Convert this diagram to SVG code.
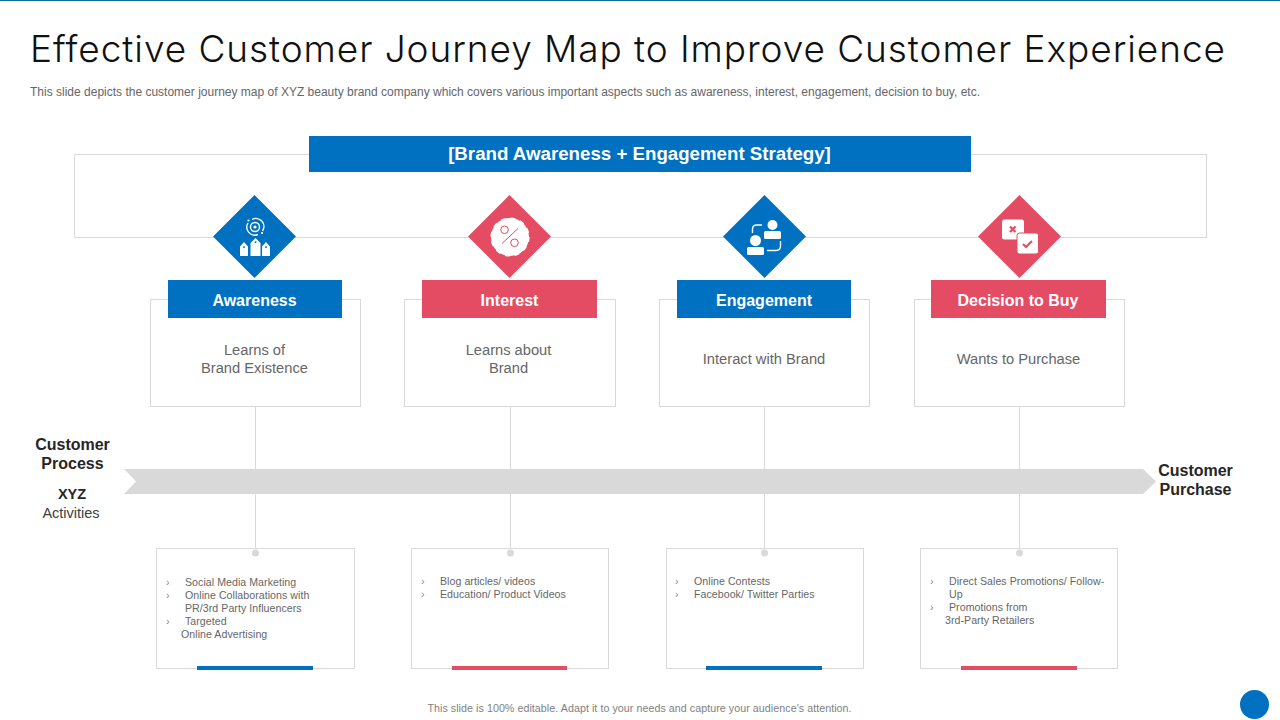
<svg xmlns="http://www.w3.org/2000/svg" width="1280" height="720" viewBox="0 0 1280 720">
<style>
text{font-family:"Liberation Sans",Arial,sans-serif}
.title{font-family:"Inter","Liberation Sans",sans-serif;font-weight:300;font-size:37px;fill:#111}
.sub{font-size:12px;fill:#666}
.box{fill:#fff;stroke:#d9d9d9;stroke-width:1}
.line{fill:none;stroke:#d9d9d9;stroke-width:1}
.blue{fill:#0070c0}
.red{fill:#e34c63}
.head{font-size:16px;font-weight:bold;fill:#fff;text-anchor:middle}
.body{font-size:14.7px;fill:#666;text-anchor:middle}
.li{font-size:10.6px;fill:#666;letter-spacing:.05px}
.bu{font-size:10.7px;fill:#888}
.side{font-size:16px;font-weight:bold;fill:#262626;text-anchor:middle}
.ic{fill:#fff}
.ics{fill:none;stroke:#fff;stroke-width:1.4}
.dot{fill:#d9d9d9}
</style>
<rect width="1280" height="720" fill="#fff"/>
<rect width="1280" height="1" fill="#0b6a9e"/>
<text class="title" x="30" y="62" textLength="1195" lengthAdjust="spacing">Effective Customer Journey Map to Improve Customer Experience</text>
<text class="sub" x="30" y="96" textLength="950" lengthAdjust="spacing">This slide depicts the customer journey map of XYZ  beauty brand company which covers various important aspects such as awareness, interest, engagement, decision to buy,  etc.</text>

<g id="connectors">
<rect class="line" x="74.500" y="154.500" width="1132" height="83"/>
<path class="line" d="M255.500 406V552M510.500 406V552M764.500 406V552M1019.500 406V552"/>
</g>

<g id="strategy">
<rect class="blue" x="309" y="136" width="662" height="36"/>
<text x="639.500" y="160" font-size="18.700" font-weight="bold" fill="#fff" text-anchor="middle">[Brand Awareness + Engagement Strategy]</text>
</g>

<g id="process-arrow">
<path fill="#d9d9d9" d="M124 469H1143L1156 481.500L1143 494H124L136 481.500Z"/>
</g>

<g id="icon-awareness">
<path class="blue" d="M254.500 195L296 236.500L254.500 278L213 236.500Z"/>
<path class="ics" d="M248 223A8 8 0 0 0 258 234.500M262.500 231A8 8 0 0 0 252 219.500"/>
<circle class="ics" cx="255" cy="227" r="4.500" stroke-width="1.800"/>
<circle class="ic" cx="255" cy="227" r="1.600"/>
<circle class="ic" cx="248.500" cy="220.500" r="1.100"/>
<circle class="ic" cx="262" cy="233" r="1.100"/>
<path class="ic" fill-rule="evenodd" d="M240 256V246.500L244 242L248 246.500V256ZM244 246.200a.9 .9 0 1 0 .01 0ZM250.500 256V243L255.500 238L260.500 243V256ZM255.500 241.200a.9 .9 0 1 0 .01 0ZM262 256V246.500L266 242L270 246.500V256ZM266 246.200a.9 .9 0 1 0 .01 0Z"/>
</g>
<g id="icon-interest">
<path class="red" d="M509.500 195L551 236.500L509.500 278L468 236.500Z"/>
<circle class="ic" cx="510" cy="237" r="19"/>
<circle cx="510" cy="237" r="19" fill="none" stroke="#fff" stroke-width="1.200" stroke-dasharray="4.970 4.970"/>
<g fill="none" stroke="#e34c63" stroke-width="1"><circle cx="504.500" cy="229.800" r="3.800"/><circle cx="514.500" cy="242.800" r="3.800"/><path d="M502 243.500L518 228.500"/></g>
</g>
<g id="icon-engagement">
<path class="blue" d="M764.500 195L806 236.500L764.500 278L723 236.500Z"/>
<circle class="ic" cx="772.500" cy="225" r="5"/>
<rect class="ic" x="764" y="231" width="17" height="8" rx="1.500"/>
<circle class="ic" cx="755.500" cy="240.500" r="5.500"/>
<rect class="ic" x="747" y="247" width="17" height="8" rx="1.500"/>
<path class="ics" d="M752.500 233V229Q752.500 225 757 225H762M780.500 241V246Q780.500 250.500 776 250.500H767"/>
</g>
<g id="icon-decision">
<path class="red" d="M1019.500 195L1061 236.500L1019.500 278L978 236.500Z"/>
<rect class="ic" x="1002" y="219.500" width="22" height="20" rx="2.500"/>
<rect class="ic" x="1017" y="233" width="21.500" height="21" rx="2.500" stroke="#e34c63" stroke-width="1"/>
<path d="M1010 226.500L1015.500 232M1015.500 226.500L1010 232" stroke="#e34c63" stroke-width="2.200" fill="none"/>
<path d="M1023 244L1026 247L1032 241" stroke="#e34c63" stroke-width="2" fill="none"/>
</g>

<g id="stage-awareness">
<rect class="box" x="150.500" y="299.500" width="210" height="107"/>
<rect class="blue" x="168" y="280" width="174" height="38"/>
<text class="head" x="254.500" y="305.500">Awareness</text>
<text class="body" x="254.500" y="355">Learns of</text>
<text class="body" x="254.500" y="373">Brand Existence</text>
</g>
<g id="stage-interest">
<rect class="box" x="404.500" y="299.500" width="211" height="107"/>
<rect class="red" x="422" y="280" width="175" height="38"/>
<text class="head" x="509.500" y="305.500">Interest</text>
<text class="body" x="508.500" y="355">Learns about</text>
<text class="body" x="508.500" y="373">Brand</text>
</g>
<g id="stage-engagement">
<rect class="box" x="659.500" y="299.500" width="210" height="107"/>
<rect class="blue" x="677" y="280" width="174" height="38"/>
<text class="head" x="764" y="305.500">Engagement</text>
<text class="body" x="764" y="364">Interact with Brand</text>
</g>
<g id="stage-decision">
<rect class="box" x="914.500" y="299.500" width="210" height="107"/>
<rect class="red" x="931" y="280" width="175" height="38"/>
<text class="head" x="1018" y="305.500">Decision to Buy</text>
<text class="body" x="1018.500" y="364">Wants to Purchase</text>
</g>

<g id="label-process">
<text class="side" x="72.500" y="450">Customer</text>
<text class="side" x="72.500" y="469">Process</text>
</g>
<g id="label-activities">
<text class="side" x="72" y="499" style="font-size:14.500px">XYZ</text>
<text x="71" y="518" font-size="14.500" fill="#404040" text-anchor="middle">Activities</text>
</g>
<g id="label-purchase">
<text class="side" x="1195.500" y="476">Customer</text>
<text class="side" x="1195.500" y="495">Purchase</text>
</g>

<g id="activity-awareness">
<rect class="box" x="156.500" y="548.500" width="198" height="120"/>
<rect class="blue" x="197" y="666" width="116" height="4"/>
<circle class="dot" cx="255.500" cy="553" r="3.500"/>
<text class="bu" x="166" y="586">›</text><text class="li" x="185" y="586">Social Media Marketing</text>
<text class="bu" x="166" y="599">›</text><text class="li" x="185" y="599">Online Collaborations with</text>
<text class="li" x="185" y="612">PR/3rd Party Influencers</text>
<text class="bu" x="166" y="625">›</text><text class="li" x="185" y="625">Targeted</text>
<text class="li" x="181" y="638">Online Advertising</text>
</g>
<g id="activity-interest">
<rect class="box" x="411.500" y="548.500" width="197" height="120"/>
<rect class="red" x="452" y="666" width="115" height="4"/>
<circle class="dot" cx="510.500" cy="553" r="3.500"/>
<text class="bu" x="421" y="585">›</text><text class="li" x="440" y="585">Blog articles/ videos</text>
<text class="bu" x="421" y="598">›</text><text class="li" x="440" y="598">Education/ Product Videos</text>
</g>
<g id="activity-engagement">
<rect class="box" x="666.500" y="548.500" width="197" height="120"/>
<rect class="blue" x="706" y="666" width="116" height="4"/>
<circle class="dot" cx="764.500" cy="553" r="3.500"/>
<text class="bu" x="675" y="585">›</text><text class="li" x="694" y="585">Online Contests</text>
<text class="bu" x="675" y="598">›</text><text class="li" x="694" y="598">Facebook/ Twitter Parties</text>
</g>
<g id="activity-decision">
<rect class="box" x="920.500" y="548.500" width="197" height="120"/>
<rect class="red" x="961" y="666" width="116" height="4"/>
<circle class="dot" cx="1019.500" cy="553" r="3.500"/>
<text class="bu" x="930" y="585">›</text><text class="li" x="949" y="585">Direct Sales Promotions/ Follow-</text>
<text class="li" x="949" y="598">Up</text>
<text class="bu" x="930" y="611">›</text><text class="li" x="949" y="611">Promotions  from</text>
<text class="li" x="945" y="624">3rd-Party Retailers</text>
</g>

<text x="639.500" y="712" font-size="10.700" fill="#7f7f7f" text-anchor="middle" letter-spacing=".05">This slide is 100% editable.  Adapt it to your needs and capture your audience's attention.</text>
<circle class="blue" cx="1254.500" cy="704.500" r="14.500"/>
</svg>
